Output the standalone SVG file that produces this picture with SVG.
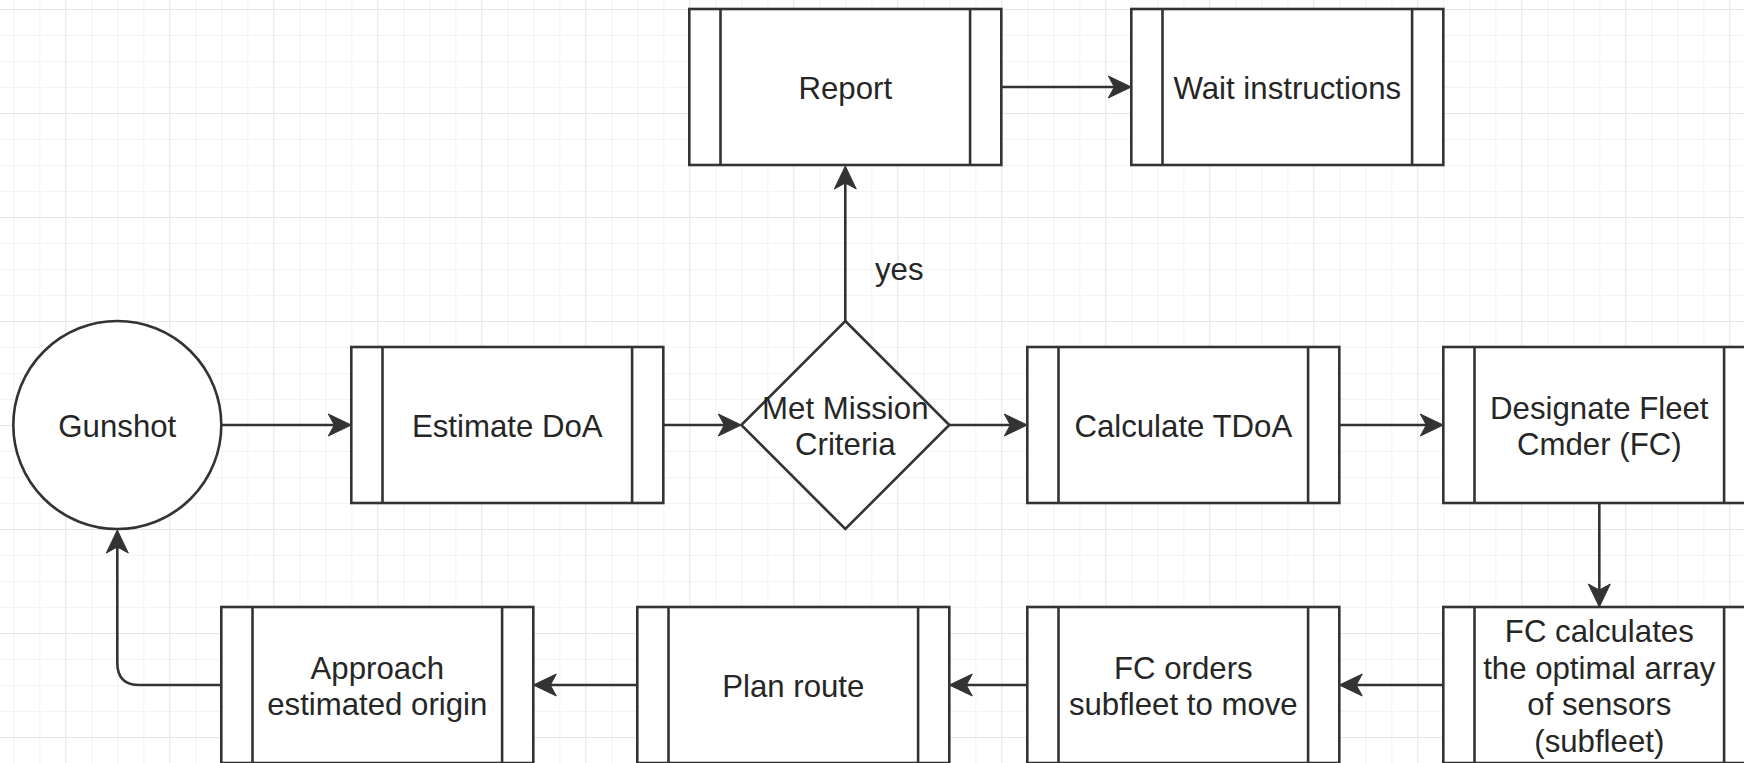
<svg xmlns="http://www.w3.org/2000/svg" width="1744" height="763" viewBox="0 0 1744 763">
<style>
.box{fill:#fff;stroke:#333;stroke-width:2.6}
.bar{fill:none;stroke:#333;stroke-width:2.6}
.edge{fill:none;stroke:#333;stroke-width:2.6}
.t{font-family:"Liberation Sans",Arial,Helvetica,sans-serif;font-size:31.2px;fill:#262626;text-anchor:middle}
.minor{stroke:#f3f3f3;stroke-width:1}
.major{stroke:#e6e6e6;stroke-width:1.2}
</style>
<defs>
<pattern id="grid" patternUnits="userSpaceOnUse" x="13.3" y="9" width="104" height="104">
<path class="minor" d="M0.5,0V104M26.5,0V104M78.5,0V104M0,26.5H104M0,52.5H104M0,78.5H104"/>
<path class="major" d="M52.5,0V104M0,0.5H104"/>
</pattern>
<marker id="arr" markerUnits="userSpaceOnUse" markerWidth="24" markerHeight="22" refX="13" refY="11" orient="auto" overflow="visible">
<path d="M0,0 L23,11 L0,22 L6,11 Z" fill="#333" stroke="#333" stroke-width="1" stroke-linejoin="miter"/>
</marker>
</defs>
<rect width="1744" height="763" fill="#fff"/>
<rect width="1744" height="763" fill="url(#grid)"/>

<g id="connectors">
<path class="edge" d="M221.3,425 H341.3" marker-end="url(#arr)"/>
<path class="edge" d="M663.3,425 H731.3" marker-end="url(#arr)"/>
<path class="edge" d="M949.3,425 H1017.3" marker-end="url(#arr)"/>
<path class="edge" d="M1339.3,425 H1433.3" marker-end="url(#arr)"/>
<path class="edge" d="M845.3,321 V176" marker-end="url(#arr)"/>
<path class="edge" d="M1001.3,87 H1121.3" marker-end="url(#arr)"/>
<path class="edge" d="M1599.3,503 V597" marker-end="url(#arr)"/>
<path class="edge" d="M1443.3,685 H1349.3" marker-end="url(#arr)"/>
<path class="edge" d="M1027.3,685 H959.3" marker-end="url(#arr)"/>
<path class="edge" d="M637.3,685 H543.3" marker-end="url(#arr)"/>
<path class="edge" d="M221.3,685 H139.3 Q117.3,685 117.3,663 V540" marker-end="url(#arr)"/>
<text class="t" x="875" y="280" style="text-anchor:start">yes</text>
</g>

<g id="gunshot">
<circle class="box" cx="117.3" cy="425" r="104"/>
<text class="t" x="117.3" y="437">Gunshot</text>
</g>

<g id="estimate-doa">
<rect class="box" x="351.3" y="347" width="312" height="156"/>
<path class="bar" d="M382.5,347V503M632.1,347V503"/>
<text class="t" x="507.3" y="437">Estimate DoA</text>
</g>

<g id="met-mission">
<path class="box" d="M845.3,321 L949.3,425 L845.3,529 L741.3,425 Z"/>
<text class="t" x="845.3" y="418.8">Met Mission</text>
<text class="t" x="845.3" y="455.2">Criteria</text>
</g>

<g id="report">
<rect class="box" x="689.3" y="9" width="312" height="156"/>
<path class="bar" d="M720.5,9V165M970.1,9V165"/>
<text class="t" x="845.3" y="99">Report</text>
</g>

<g id="wait-instructions">
<rect class="box" x="1131.3" y="9" width="312" height="156"/>
<path class="bar" d="M1162.5,9V165M1412.1,9V165"/>
<text class="t" x="1287.3" y="99">Wait instructions</text>
</g>

<g id="calculate-tdoa">
<rect class="box" x="1027.3" y="347" width="312" height="156"/>
<path class="bar" d="M1058.5,347V503M1308.1,347V503"/>
<text class="t" x="1183.3" y="437">Calculate TDoA</text>
</g>

<g id="designate-fc">
<rect class="box" x="1443.3" y="347" width="312" height="156"/>
<path class="bar" d="M1474.5,347V503M1724.1,347V503"/>
<text class="t" x="1599.3" y="418.8">Designate Fleet</text>
<text class="t" x="1599.3" y="455.2">Cmder (FC)</text>
</g>

<g id="fc-calculates">
<rect class="box" x="1443.3" y="607" width="312" height="156"/>
<path class="bar" d="M1474.5,607V763M1724.1,607V763"/>
<text class="t" x="1599.3" y="642.4">FC calculates</text>
<text class="t" x="1599.3" y="678.8">the optimal array</text>
<text class="t" x="1599.3" y="715.2">of sensors</text>
<text class="t" x="1599.3" y="751.6">(subfleet)</text>
</g>

<g id="fc-orders">
<rect class="box" x="1027.3" y="607" width="312" height="156"/>
<path class="bar" d="M1058.5,607V763M1308.1,607V763"/>
<text class="t" x="1183.3" y="678.8">FC orders</text>
<text class="t" x="1183.3" y="715.2">subfleet to move</text>
</g>

<g id="plan-route">
<rect class="box" x="637.3" y="607" width="312" height="156"/>
<path class="bar" d="M668.5,607V763M918.1,607V763"/>
<text class="t" x="793.3" y="697">Plan route</text>
</g>

<g id="approach">
<rect class="box" x="221.3" y="607" width="312" height="156"/>
<path class="bar" d="M252.5,607V763M502.1,607V763"/>
<text class="t" x="377.3" y="678.8">Approach</text>
<text class="t" x="377.3" y="715.2">estimated origin</text>
</g>
</svg>
